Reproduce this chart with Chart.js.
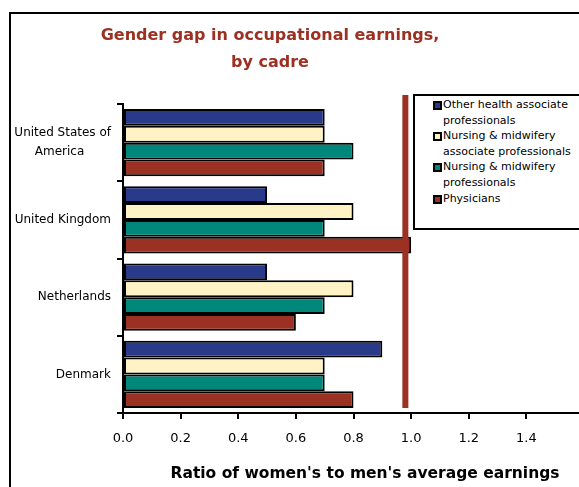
<!DOCTYPE html>
<html>
<head>
<meta charset="utf-8">
<script src="https://cdn.jsdelivr.net/npm/chart.js@4"></script>
<style>
  html, body { margin: 0; padding: 0; background: #fff; overflow: hidden; }
  #wrap { position: relative; width: 579px; height: 487px; overflow: hidden; }
  #frame { position: absolute; left: 9px; top: 12px; width: 600px; height: 500px; border: 2px solid #000; box-sizing: border-box; }
  #box { position: absolute; left: 0; top: 0; width: 590px; height: 487px; }
  #title { position: absolute; left: 70px; width: 400px; top: 21px; text-align: center; color: #9b3122;
    font-family: "DejaVu Sans", Verdana, sans-serif; font-weight: bold; font-size: 16px; line-height: 27px; }
  #xtitle { position: absolute; left: 165px; width: 400px; top: 462px; text-align: center; color: #000;
    font-family: "DejaVu Sans", Verdana, sans-serif; font-weight: bold; font-size: 15.5px; line-height: 22px; white-space: nowrap; }
  #legend { position: absolute; left: 413px; top: 94px; width: 180px; height: 136px; border: 2px solid #000; box-sizing: border-box; background: #fff;
    font-family: "DejaVu Sans", Verdana, sans-serif; font-size: 11px; line-height: 15.6px; color: #000; padding: 1px 0 0 18px; }
  #legend .item { position: relative; padding-left: 10px; }
  #legend .sw { position: absolute; left: 0; top: 4px; width: 5px; height: 5px; border: 2px solid #000; }
</style>
</head>
<body>
<div id="wrap">
  <div id="frame"></div>
  <div id="box"><canvas id="chart" width="590" height="487"></canvas></div>
  <div id="title">Gender gap in occupational earnings,<br>by cadre</div>
  <div id="xtitle"></div>
  <div id="legend"></div>
</div>
<script>
const countries = [['United States of', 'America\u00a0\u00a0\u00a0\u00a0\u00a0\u00a0\u00a0'], 'United Kingdom', 'Netherlands', 'Denmark'];
const seriesNames = ['Other health associate professionals', 'Nursing & midwifery associate professionals', 'Nursing & midwifery professionals', 'Physicians'];
const otherHealth = [0.7, 0.5, 0.5, 0.9];
const nursingAssoc = [0.7, 0.8, 0.8, 0.7];
const nursingProf = [0.8, 0.7, 0.7, 0.7];
const physicians = [0.7, 1.0, 0.6, 0.8];
const colors = ['#2a3a8a', '#fff3c6', '#00877c', '#9b3122'];
const xTicks = [0, 0.2, 0.4, 0.6, 0.8, 1.0, 1.2, 1.4];
const xTitle = "Ratio of women's to men's average earnings";
const refValue = 0.98;

const font = '"DejaVu Sans", Verdana, sans-serif';
const values = [otherHealth, nursingAssoc, nursingProf, physicians];

const refLine = {
  id: 'refLine',
  afterDatasetsDraw(chart) {
    const { ctx, chartArea, scales } = chart;
    const x = scales.x.getPixelForValue(refValue);
    ctx.save();
    ctx.fillStyle = '#9b3122';
    ctx.fillRect(x - 3, chartArea.top - 9, 6, chartArea.bottom - chartArea.top + 4);
    ctx.restore();
  }
};

document.addEventListener('DOMContentLoaded', () => {
  const ctx = document.getElementById('chart').getContext('2d');
  new Chart(ctx, {
    type: 'bar',
    data: {
      labels: countries,
      datasets: seriesNames.map((name, i) => ({
        label: name,
        data: values[i],
        backgroundColor: colors[i],
        borderColor: '#000',
        borderWidth: 2,
        borderSkipped: false,
        barPercentage: 1.0,
        categoryPercentage: 0.87
      }))
    },
    options: {
      indexAxis: 'y',
      responsive: false,
      animation: false,
      devicePixelRatio: 1,
      layout: { padding: { top: 104, left: 10, right: 6, bottom: 3 } },
      plugins: {
        legend: { display: false },
        tooltip: { enabled: false },
        title: { display: false }
      },
      scales: {
        x: {
          min: 0,
          max: 1.6,
          afterBuildTicks: s => { s.ticks = xTicks.map(v => ({ value: v })); },
          afterFit: s => { s.height = 71; },
          border: { display: true, color: '#000', width: 2 },
          grid: { drawOnChartArea: false, color: '#000', lineWidth: 2, tickLength: 6 },
          ticks: { color: '#000', padding: 12, font: { family: font, size: 13 }, callback: v => v.toFixed(1), maxRotation: 0 }
        },
        y: {
          afterFit: s => { s.width = 113; },
          border: { display: true, color: '#000', width: 2 },
          grid: { offset: true, drawOnChartArea: false, color: '#000', lineWidth: 2, tickLength: 6 },
          ticks: { color: '#000', padding: 6, font: { family: font, size: 12, lineHeight: 1.55 } }
        }
      }
    },
    plugins: [refLine]
  });

  document.getElementById('xtitle').textContent = xTitle;

  const legend = document.getElementById('legend');
  seriesNames.forEach((name, i) => {
    const item = document.createElement('div');
    item.className = 'item';
    item.innerHTML = `<span class="sw" style="background:${colors[i]}"></span>${name}`;
    legend.appendChild(item);
  });
});
</script>
</body>
</html>
